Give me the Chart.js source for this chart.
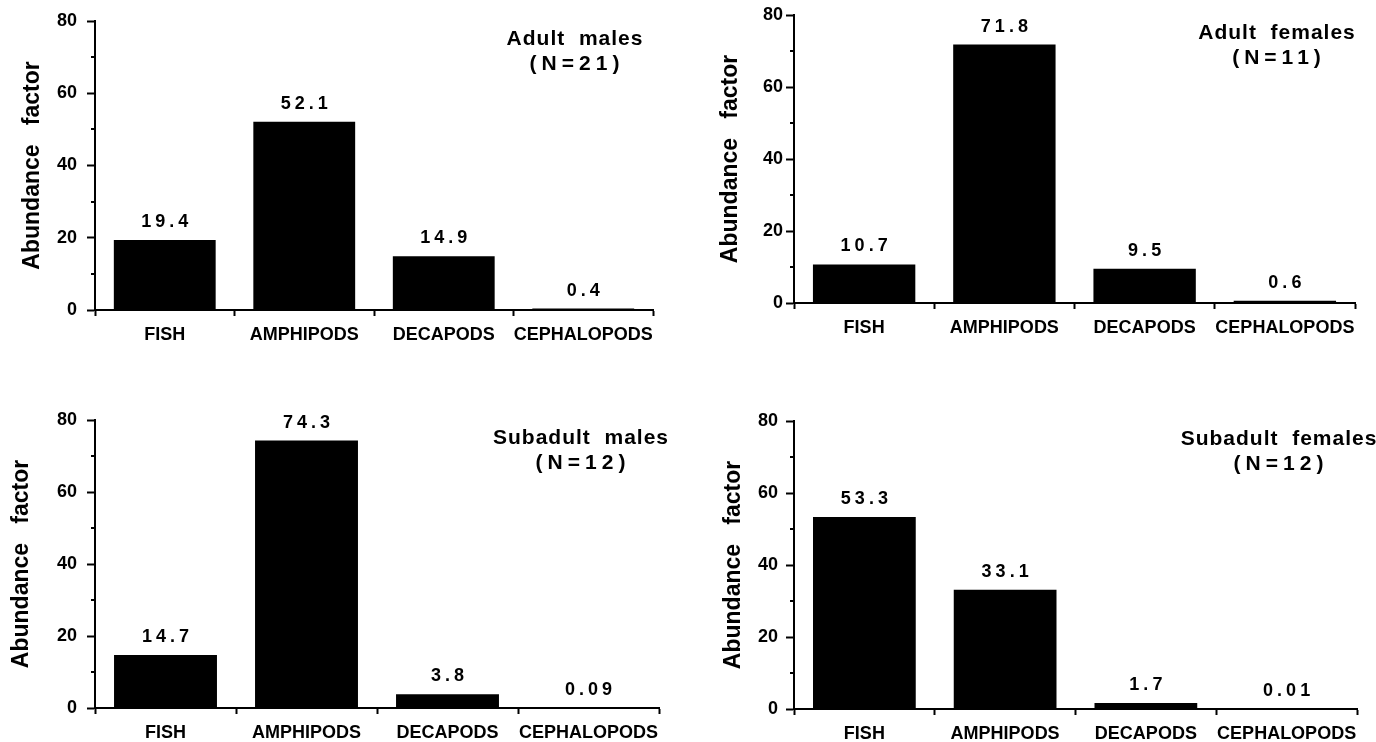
<!DOCTYPE html>
<html>
<head>
<meta charset="utf-8">
<script src="https://cdn.jsdelivr.net/npm/chart.js@4"></script>
<style>
  body { margin: 0; background: #fff; width: 1376px; height: 742px; overflow: hidden; position: relative; }
  canvas { position: absolute; }
</style>
</head>
<body>
<canvas id="c0" width="688" height="371" style="left:0;top:0"></canvas>
<canvas id="c1" width="688" height="371" style="left:688px;top:0"></canvas>
<canvas id="c2" width="688" height="371" style="left:0;top:371px"></canvas>
<canvas id="c3" width="688" height="371" style="left:688px;top:371px"></canvas>
<script>
// data
const categories = ['FISH', 'AMPHIPODS', 'DECAPODS', 'CEPHALOPODS'];
const adultMales = [19.4, 52.1, 14.9, 0.4];
const adultFemales = [10.7, 71.8, 9.5, 0.6];
const subadultMales = [14.7, 74.3, 3.8, 0.09];
const subadultFemales = [53.3, 33.1, 1.7, 0.01];
const yMajorTicks = [0, 20, 40, 60, 80];
const yMinorTicks = [10, 30, 50, 70];
const panelNames = ['Adult  males', 'Adult  females', 'Subadult  males', 'Subadult  females'];
const panelCounts = ['(N=21)', '(N=11)', '(N=12)', '(N=12)'];
const yTitle = 'Abundance   factor';

const series = [adultMales, adultFemales, subadultMales, subadultFemales];

// per panel layout (canvas px)
const layouts = [
  { left: 95, right: 35, top: 21, xh: 61, tickPad: 10, titlePad: 19 },
  { left: 106, right: 21, top: 15, xh: 68, tickPad: 3, titlePad: 29 },
  { left: 95, right: 29, top: 49, xh: 34, tickPad: 10, titlePad: 8 },
  { left: 106, right: 19, top: 50, xh: 33, tickPad: 8, titlePad: 32 },
];

const FONT = '"Liberation Sans", Arial, sans-serif';
Chart.defaults.font.family = FONT;
Chart.defaults.color = '#000';

// short minor ticks on the y axis
const minorTicks = {
  id: 'minorTicks',
  afterDraw(chart) {
    const { ctx, scales: { y }, chartArea } = chart;
    ctx.save();
    ctx.strokeStyle = '#000';
    ctx.lineWidth = 2;
    yMinorTicks.forEach(v => {
      const py = Math.round(y.getPixelForValue(v));
      ctx.beginPath();
      ctx.moveTo(chartArea.left - 4, py);
      ctx.lineTo(chartArea.left, py);
      ctx.stroke();
    });
    ctx.restore();
  }
};

// numbers above bars
const valueLabels = {
  id: 'valueLabels',
  afterDatasetsDraw(chart) {
    const { ctx } = chart;
    const meta = chart.getDatasetMeta(0);
    const data = chart.data.datasets[0].data;
    ctx.save();
    ctx.font = 'bold 18px ' + FONT;
    ctx.letterSpacing = '4px';
    ctx.fillStyle = '#000';
    ctx.textAlign = 'center';
    ctx.textBaseline = 'alphabetic';
    meta.data.forEach((bar, i) => {
      ctx.fillText(String(data[i]), bar.x + 2, bar.y - 13);
    });
    ctx.restore();
  }
};

// panel caption in the top right corner
const panelTitle = {
  id: 'panelTitle',
  afterDraw(chart, args, opts) {
    const { ctx, chartArea } = chart;
    const cx = chartArea.right - 78;
    ctx.save();
    ctx.fillStyle = '#000';
    ctx.textAlign = 'center';
    ctx.font = 'bold 21px ' + FONT;
    ctx.letterSpacing = '1px';
    ctx.fillText(opts.name, cx, chartArea.top + 24);
    ctx.letterSpacing = '5px';
    ctx.fillText(opts.count, cx + 2, chartArea.top + 49);
    ctx.restore();
  }
};

series.forEach((values, i) => {
  const p = layouts[i];
  new Chart(document.getElementById('c' + i), {
    type: 'bar',
    data: {
      labels: categories,
      datasets: [{
        data: values,
        backgroundColor: '#000',
        borderWidth: 0,
        categoryPercentage: 1,
        barPercentage: 0.73,
      }]
    },
    options: {
      responsive: false,
      animation: false,
      devicePixelRatio: 1,
      layout: { padding: { left: 0, right: p.right, top: p.top, bottom: 0 } },
      plugins: {
        legend: { display: false },
        tooltip: { enabled: false },
        panelTitle: { name: panelNames[i], count: panelCounts[i] },
      },
      scales: {
        x: {
          grid: { drawOnChartArea: false, drawTicks: true, tickLength: 6, tickWidth: 2, tickColor: '#000', offset: true },
          border: { color: '#000', width: 2 },
          ticks: { color: '#000', font: { size: 18, weight: 'bold' }, padding: 8, maxRotation: 0, autoSkip: false },
          afterFit: s => { s.height = p.xh; }
        },
        y: {
          min: 0, max: 80,
          grid: {
            drawOnChartArea: false, tickLength: 8, tickWidth: 2,
            tickColor: c => (c.tick && yMajorTicks.includes(c.tick.value)) ? '#000' : 'rgba(0,0,0,0)'
          },
          border: { color: '#000', width: 2 },
          ticks: {
            stepSize: 10, padding: p.tickPad, color: '#000',
            font: { size: 18, weight: 'bold' },
            callback: v => yMajorTicks.includes(v) ? v : ''
          },
          title: {
            display: true, text: yTitle, color: '#000',
            font: { size: 23, weight: 'bold' },
            padding: { top: p.titlePad, bottom: 0 }
          },
          afterFit: s => { s.width = p.left; }
        }
      }
    },
    plugins: [minorTicks, valueLabels, panelTitle]
  });
});
</script>
</body>
</html>
